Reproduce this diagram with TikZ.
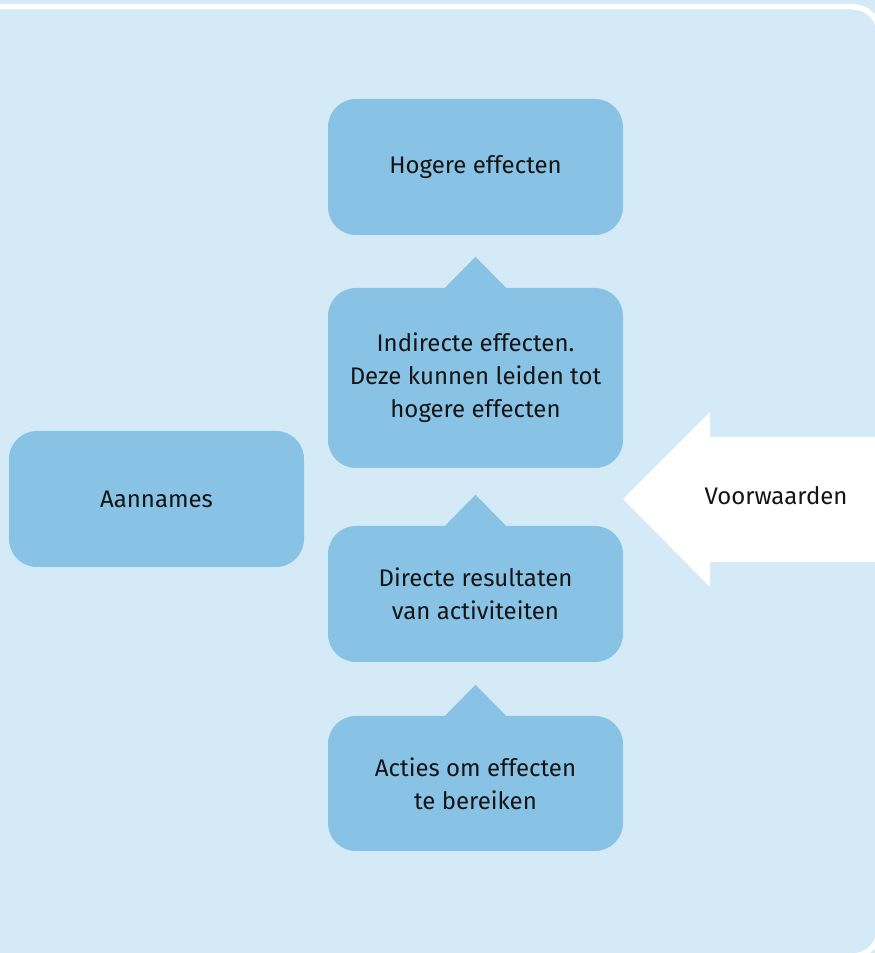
\documentclass[tikz,border=0pt]{standalone}
\usepackage{fontspec}
\setmainfont{Fira Sans}
\definecolor{bgc}{RGB}{212,234,246}
\definecolor{boxc}{RGB}{136,195,230}
\definecolor{txtc}{RGB}{20,20,20}
\tikzset{
  x=1pt, y=1pt,
  lbl/.style={font=\fontsize{24}{33}\selectfont, text=txtc},
  box/.style={lbl, fill=boxc, rounded corners=28pt, minimum width=295pt, minimum height=136pt,
    align=center, inner sep=0pt},
  uptri/.style={fill=boxc},
}
\begin{document}
\begin{tikzpicture}
\useasboundingbox (0,0) rectangle (875,953);
\clip (0,0) rectangle (875,953);
\fill[bgc] (0,0) rectangle (875,953);
\draw[white, line width=5.5pt, rounded corners=27pt] (-20,946.25) -- (879.5,946.25) -- (879.5,-3) -- (-20,-3);

\node[box] (hog) at (475.5,786) {Hogere effecten};
\node[box, minimum height=180pt] (ind) at (475.5,575) {Indirecte effecten.\\Deze kunnen leiden tot\\hogere effecten};
\node[box] (dir) at (475.5,359) {Directe resultaten\\van activiteiten};
\node[box, minimum height=135pt] (act) at (475.5,169.5) {Acties om effecten\\te bereiken};
\node[box] (aan) at (156.5,454) {Aannames};

\foreach \n in {ind,dir,act}{
  \fill[uptri] ([xshift=-31pt,yshift=-0.5pt]\n.north) -- ([yshift=31pt]\n.north) -- ([xshift=31pt,yshift=-0.5pt]\n.north) -- cycle;
}

\coordinate (tip) at (623,454);
\fill[white] (tip) -- (710,541) -- (710,516) -- (880,516) -- (880,391) -- (710,391) -- (710,366) -- cycle;
\node[lbl] (voor) at (776,457) {Voorwaarden};
\end{tikzpicture}
\end{document}
